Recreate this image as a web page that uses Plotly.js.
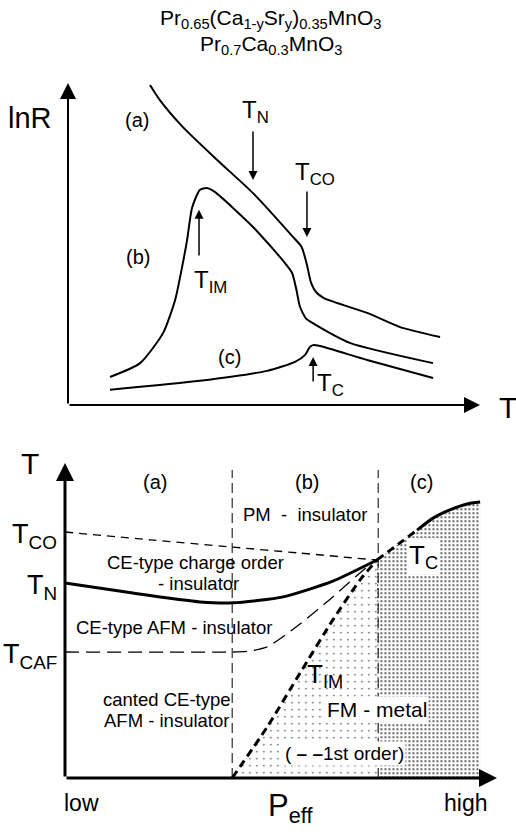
<!DOCTYPE html>
<html><head><meta charset="utf-8">
<script src="https://cdn.plot.ly/plotly-3.0.1.min.js"></script>
<style>body{margin:0;padding:0;background:#fff}#chart{width:516px;height:832px}</style>
</head><body><div id="chart"></div>
<script>
// ---------- Top panel: lnR vs T (schematic) ----------
const tA   = [19.9,22.3,27.9,36.2,44.9,54.6,56.7,58.0,59.0,60.2,62.1,72.6,80.6,90.3];
const lnRA = [99.4,94.7,86.3,76.1,65.8,52.2,49.1,43.5,37.9,35.1,33.2,28.6,24.2,21.1];
const tB   = [10.2,17.5,23.1,26.0,27.7,28.9,30.1,32.0,33.7,35.7,44.9,52.4,54.4,55.4,56.3,57.8,59.7,68.4,88.6];
const lnRB = [8.7,13.0,22.4,32.6,42.9,51.2,61.2,66.8,67.4,66.1,55.3,44.5,41.0,36.0,30.5,26.8,25.2,19.3,13.0];
const tC   = [10.2,32.0,48.3,55.1,57.5,58.7,59.5,61.2,72.6,88.6];
const lnRC = [4.7,7.5,10.6,13.4,15.5,18.0,18.6,18.3,14.0,8.4];
// transition markers (arrows) in top panel
const mkNames = ['T<sub>N</sub>','T<sub>CO</sub>','T<sub>IM</sub>','T<sub>C</sub>'];
const mkT     = [44.9,58.0,31.8,59.5];
const mkFrom  = [85.4,66.8,46.0,6.8];
const mkTo    = [69.9,52.2,60.6,14.9];
const mkLabX  = [45.4,59.9,34.7,63.8];
const mkLabY  = [85.8,66.4,43.8,6.5];
const mkLabAnchor = ['bottom','bottom','top','middle'];
const curveLabels = ['(a)','(b)','(c)'];
const curveLabX = [16.7,17.0,39.3];
const curveLabY = [88.5,46.0,14.9];

// ---------- Bottom panel: phase diagram T vs P_eff ----------
const pCO = [0,19.7,38.9,54.4,72.2];           const tCO = [78.1,75.6,73.3,71.4,69.2];
const pN  = [0,15.7,31.3,38.9,50.5,62.0,72.2]; const tN  = [61.9,58.7,55.9,55.6,57.5,62.5,69.2];
const pTCdash  = [72.2,77.5,81.5];             const tTCdash  = [69.2,74.6,78.7];
const pTCsolid = [81.5,85.2,89.1,93.1,96.1];   const tTCsolid = [78.7,82.5,85.1,87.0,87.6];
const pCAF = [0,38.9,42.8,46.8,54.4,62.0,69.9,72.2]; const tCAF = [40,40,40.3,41.6,48.9,57.5,67.0,69.2];
const pIM  = [38.7,46.8,54.4,62.0,68.3,72.2];  const tIM  = [0,16.2,33.3,50.2,62.9,69.2];
const pBound = [38.7,72.5]; const tBoundTop = 97.8; const pEdge = 96.1;
const tickNames = ['T<sub>CO</sub>','T<sub>N</sub>','T<sub>CAF</sub>'];
const tickVals  = [78.1,61.9,40.0];
const regionText = ['(a)','(b)','(c)','PM\u00a0\u00a0-\u00a0\u00a0insulator','CE-type charge order','- insulator',
  'CE-type AFM - insulator','canted CE-type','AFM - insulator'];
const regionX = [20.8,56.0,82.6,55.6,30.1,30.8,25.2,23.6,23.6];
const regionY = [94.0,94.0,94.0,83.5,68.3,61.9,47.9,24.8,18.4];

// ---------- geometry ----------
const W=516,H=832;
const gTop = {ox:68, oy:405, sx:4.12, sy:3.22, xr:[-5,105], yr:[-5,105]};
const gBot = {ox:65, oy:778, sx:4.32, sy:3.15, xr:[-5,104], yr:[-5,105]};
function xdom(g){return [(g.ox+g.xr[0]*g.sx)/W,(g.ox+g.xr[1]*g.sx)/W];}
function ydom(g){return [1-(g.oy-g.yr[0]*g.sy)/H,1-(g.oy-g.yr[1]*g.sy)/H];}
function px(g,x){return (g.ox+x*g.sx)/W;}
function py(g,y){return 1-(g.oy-y*g.sy)/H;}

const FONT = 'Liberation Sans, Arial, Helvetica, sans-serif';
const traces = [];
function line(x,y,xa,ya,w,dash,sm){traces.push({x:x,y:y,xaxis:xa,yaxis:ya,mode:'lines',
  line:{color:'black',width:w,dash:dash||'solid',shape:'spline',smoothing:sm||0.6},hoverinfo:'skip'});}

// fills
traces.push({x:pIM.concat([pBound[1],pBound[1]]), y:tIM.concat([tIM[tIM.length-1],0]), xaxis:'x2',yaxis:'y2',
  mode:'lines',line:{width:0},fill:'toself',fillcolor:'rgba(0,0,0,0)',
  fillpattern:{shape:'.',size:7,solidity:0.035,fgcolor:'#222',bgcolor:'white',fillmode:'replace'},hoverinfo:'skip'});
const pTC = pTCdash.concat(pTCsolid.slice(1)), tTC = tTCdash.concat(tTCsolid.slice(1));
traces.push({x:[pBound[1]].concat(pTC,[pEdge]), y:[0].concat(tTC,[0]), xaxis:'x2',yaxis:'y2',
  mode:'lines',line:{width:0},fill:'toself',fillcolor:'rgba(0,0,0,0)',
  fillpattern:{shape:'.',size:4,solidity:0.22,fgcolor:'#444',bgcolor:'white',fillmode:'replace'},hoverinfo:'skip'});

// top curves
line(tA,lnRA,'x','y',2);
line(tB,lnRB,'x','y',2);
line(tC,lnRC,'x','y',2);
// bottom
line([pBound[0],pBound[0]],[0,tBoundTop],'x2','y2',1,'10px,5px');
line([pBound[1],pBound[1]],[0,tBoundTop],'x2','y2',1,'10px,5px');
line(pCO,tCO,'x2','y2',1.3,'8px,6px');
line(pCAF,tCAF,'x2','y2',1.3,'14px,7px');
line(pN,tN,'x2','y2',3);
line(pTCdash,tTCdash,'x2','y2',3,'8px,5px');
line(pTCsolid,tTCsolid,'x2','y2',3);
line(pIM,tIM,'x2','y2',3,'8px,5px');

const ann = [];
function arrow(xr,yr,x0,y0,x1,y1,w,head,size){ann.push({xref:xr,yref:yr,axref:xr,ayref:yr,x:x1,y:y1,ax:x0,ay:y0,
  text:'',showarrow:true,arrowhead:head,arrowsize:size,arrowwidth:w,arrowcolor:'black',standoff:0});}
function txt(xr,yr,x,y,t,size,opt){ann.push(Object.assign({xref:xr,yref:yr,x:x,y:y,text:t,showarrow:false,
  font:{family:FONT,size:size,color:'black'},xanchor:'center',yanchor:'middle'},opt||{}));}
// text placed in a panel's data units but outside its range -> paper coordinates
function ptxt(g,x,y,t,size,opt){txt('paper','paper',px(g,x),py(g,y),t,size,opt);}

// titles
txt('paper','paper',0.525,1-19/H,'Pr<sub>0.65</sub>(Ca<sub>1-y</sub>Sr<sub>y</sub>)<sub>0.35</sub>MnO<sub>3</sub>',21,{});
txt('paper','paper',0.525,1-45/H,'Pr<sub>0.7</sub>Ca<sub>0.3</sub>MnO<sub>3</sub>',21,{});

// axes as arrows
arrow('x','y',0,0,0,100,2,2,1.6);
arrow('x','y',0,0,100,0,2,2,1.6);
arrow('x2','y2',0,0,0,100,3,2,1.2);
arrow('x2','y2',0,0,100,0,3,2,1.2);
ptxt(gTop,-9.2,89.1,'lnR',29);
ptxt(gTop,106.8,-0.9,'T',30);
// transition arrows
for(let i=0;i<mkNames.length;i++){
  arrow('x','y',mkT[i],mkFrom[i],mkT[i],mkTo[i],1.5,2,1.2);
  txt('x','y',mkLabX[i],mkLabY[i],mkNames[i],24,{yanchor:mkLabAnchor[i]});
}
for(let i=0;i<3;i++) txt('x','y',curveLabX[i],curveLabY[i],curveLabels[i],20,{});

// bottom texts
ptxt(gBot,-8.1,100,'T',30);
for(let i=0;i<tickNames.length;i++) txt('x2','y2',-1.5,tickVals[i],tickNames[i],27,{xanchor:'right',yshift:-4});
for(let i=0;i<regionText.length;i++) txt('x2','y2',regionX[i],regionY[i],regionText[i],i<3?20:18.5,{});
txt('x2','y2',60.2,32.7,'T<sub>IM</sub>',26,{});
txt('x2','y2',72.2,21.6,'FM - metal',21,{bgcolor:'white'});
txt('x2','y2',64.8,7.9,'( <b>\u2013 \u2013</b>1st order)',19,{bgcolor:'white'});
txt('x2','y2',82.9,70.2,'T<sub>C</sub>',26,{bgcolor:'white'});
ptxt(gBot,3.9,-7.9,'low',23);
ptxt(gBot,52.1,-9.5,'P<sub>eff</sub>',31);
ptxt(gBot,92.6,-7.9,'high',23);

const ax = (dom,rng)=>({domain:dom,range:rng,showgrid:false,zeroline:false,showline:false,showticklabels:false,ticks:'',fixedrange:true});
const layout = {
  width:W,height:H,margin:{l:0,r:0,t:0,b:0},paper_bgcolor:'white',plot_bgcolor:'rgba(0,0,0,0)',showlegend:false,
  font:{family:FONT,color:'black'},
  xaxis:ax(xdom(gTop),gTop.xr), yaxis:ax(ydom(gTop),gTop.yr),
  xaxis2:Object.assign(ax(xdom(gBot),gBot.xr),{anchor:'y2'}), yaxis2:Object.assign(ax(ydom(gBot),gBot.yr),{anchor:'x2'}),
  annotations:ann
};
Plotly.newPlot('chart',traces,layout,{staticPlot:true,displayModeBar:false});
</script></body></html>
